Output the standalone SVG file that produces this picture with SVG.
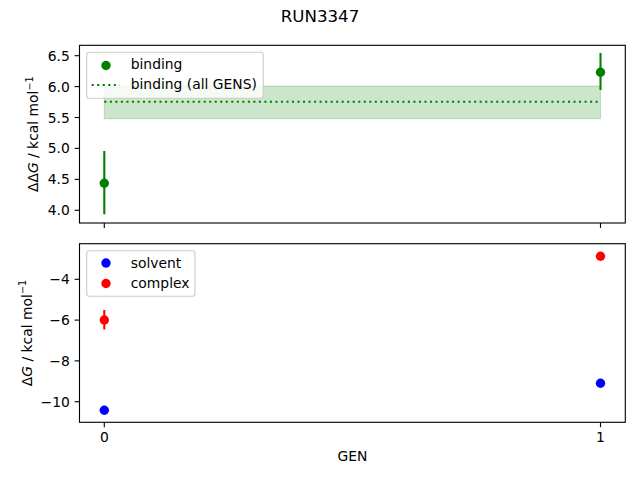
<svg xmlns="http://www.w3.org/2000/svg" width="640" height="480" viewBox="0 0 640 480">
<style>
text{font-family:"DejaVu Sans","Liberation Sans",sans-serif;font-size:13.89px;fill:#000}
.ytl{text-anchor:end}
.xtl{text-anchor:middle}
.spine{fill:none;stroke:#000;stroke-width:1.11}
.tick{stroke:#000;stroke-width:1.11}
.leg{fill:#fff;fill-opacity:0.8;stroke:#cccccc;stroke-width:1.11}
.eg{stroke:#008000;stroke-width:2.08}
.er{stroke:#ff0000;stroke-width:2.08}
.dot{stroke:#008000;stroke-width:2.08;stroke-dasharray:2.08 3.44;fill:none}
circle{r:4.7px}
</style>
<rect width="640" height="480" fill="#fff"/>
<g id="title"><text x="320" y="22" style="font-size:16.67px" text-anchor="middle">RUN3347</text></g>

<g id="top-axes">
  <rect x="104.3" y="86" width="496.2" height="32.7" fill="#008000" fill-opacity="0.2" stroke="#008000" stroke-opacity="0.2" stroke-width="1.11"/>
  <line class="dot" x1="104.3" y1="101.7" x2="600.5" y2="101.7"/>
  <line class="eg" x1="104.3" y1="151" x2="104.3" y2="214.3"/>
  <circle cx="104.3" cy="183.3" r="4.7" fill="#008000"/>
  <line class="eg" x1="600.5" y1="53" x2="600.5" y2="90"/>
  <circle cx="600.5" cy="72.3" r="4.7" fill="#008000"/>
  <rect class="spine" x="79.5" y="45.3" width="545.8" height="177.7"/>
  <g id="top-yticks">
    <line class="tick" x1="74.6" y1="210.3" x2="79.5" y2="210.3"/>
    <line class="tick" x1="74.6" y1="179.4" x2="79.5" y2="179.4"/>
    <line class="tick" x1="74.6" y1="148.4" x2="79.5" y2="148.4"/>
    <line class="tick" x1="74.6" y1="117.5" x2="79.5" y2="117.5"/>
    <line class="tick" x1="74.6" y1="86.6" x2="79.5" y2="86.6"/>
    <line class="tick" x1="74.6" y1="55.7" x2="79.5" y2="55.7"/>
    <text class="ytl" x="69.8" y="215.3">4.0</text>
    <text class="ytl" x="69.8" y="184.4">4.5</text>
    <text class="ytl" x="69.8" y="153.4">5.0</text>
    <text class="ytl" x="69.8" y="122.5">5.5</text>
    <text class="ytl" x="69.8" y="91.6">6.0</text>
    <text class="ytl" x="69.8" y="60.7">6.5</text>
  </g>
  <line class="tick" x1="104.3" y1="223" x2="104.3" y2="227.9"/>
  <line class="tick" x1="600.5" y1="223" x2="600.5" y2="227.9"/>
  <text x="38.5" y="134.2" text-anchor="middle" transform="rotate(-90 38.5 134.2)">ΔΔ<tspan font-style="italic">G</tspan> / kcal mol<tspan dy="-5.5" style="font-size:9.7px">−1</tspan></text>
  <g id="top-legend">
    <rect class="leg" x="86.7" y="52.3" width="176.6" height="46" rx="2.8"/>
    <circle cx="106" cy="65.5" r="4.7" fill="#008000"/>
    <text x="130.7" y="69.2">binding</text>
    <line class="dot" x1="91.7" y1="85" x2="119.5" y2="85"/>
    <text x="130.7" y="88.7">binding (all GENS)</text>
  </g>
</g>

<g id="bottom-axes">
  <line class="er" x1="104.3" y1="310" x2="104.3" y2="329.5"/>
  <circle cx="104.3" cy="320" r="4.7" fill="#ff0000"/>
  <circle cx="104.3" cy="410.3" r="4.7" fill="#0000ff"/>
  <circle cx="600.5" cy="256.3" r="4.7" fill="#ff0000"/>
  <circle cx="600.5" cy="383.3" r="4.7" fill="#0000ff"/>
  <rect class="spine" x="79.5" y="243.7" width="545.8" height="178.6"/>
  <g id="bottom-yticks">
    <line class="tick" x1="74.6" y1="279.3" x2="79.5" y2="279.3"/>
    <line class="tick" x1="74.6" y1="320.1" x2="79.5" y2="320.1"/>
    <line class="tick" x1="74.6" y1="360.9" x2="79.5" y2="360.9"/>
    <line class="tick" x1="74.6" y1="401.7" x2="79.5" y2="401.7"/>
    <text class="ytl" x="69.8" y="284.3">−4</text>
    <text class="ytl" x="69.8" y="325.1">−6</text>
    <text class="ytl" x="69.8" y="365.9">−8</text>
    <text class="ytl" x="69.8" y="406.7">−10</text>
  </g>
  <g id="bottom-xticks">
    <line class="tick" x1="104.3" y1="422.3" x2="104.3" y2="427.2"/>
    <line class="tick" x1="600.5" y1="422.3" x2="600.5" y2="427.2"/>
    <text class="xtl" x="104.3" y="442">0</text>
    <text class="xtl" x="600.5" y="442">1</text>
  </g>
  <text x="352.4" y="461" text-anchor="middle">GEN</text>
  <text x="31.5" y="333" text-anchor="middle" transform="rotate(-90 31.5 333)">Δ<tspan font-style="italic">G</tspan> / kcal mol<tspan dy="-5.5" style="font-size:9.7px">−1</tspan></text>
  <g id="bottom-legend">
    <rect class="leg" x="86.7" y="250.7" width="108.3" height="45.5" rx="2.8"/>
    <circle cx="106" cy="263" r="4.7" fill="#0000ff"/>
    <text x="130.7" y="267.5">solvent</text>
    <circle cx="106" cy="283.5" r="4.7" fill="#ff0000"/>
    <text x="130.7" y="288">complex</text>
  </g>
</g>
</svg>
